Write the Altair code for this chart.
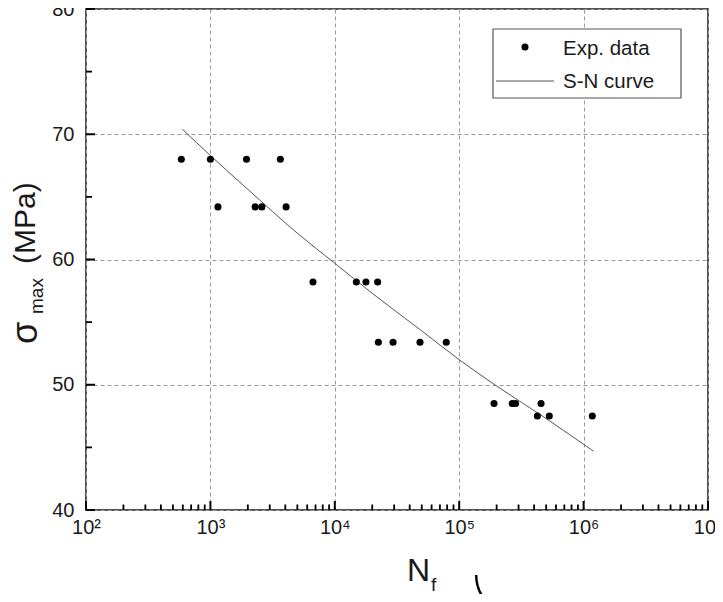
import altair as alt
import pandas as pd

# Experimental fatigue data (cycles to failure, max stress in MPa)
exp_n = [584, 1000, 1950, 3650,
         1150, 2290, 2590, 4060,
         6680, 14900, 17800, 22100,
         22400, 29400, 48400, 78700,
         190500, 267000, 284000, 455000,
         425000, 530000, 1175000]
exp_s = [68.0, 68.0, 68.0, 68.0,
         64.2, 64.2, 64.2, 64.2,
         58.2, 58.2, 58.2, 58.2,
         53.4, 53.4, 53.4, 53.4,
         48.5, 48.5, 48.5, 48.5,
         47.5, 47.5, 47.5]

# S-N curve
curve_n = [595, 1000, 2000, 5000, 10000, 20000, 50000, 100000, 200000, 500000, 1200000]
curve_s = [70.4, 68.3, 65.6, 62.1, 59.7, 57.3, 54.3, 52.0, 49.9, 47.3, 44.7]

x_major = [1e2, 1e3, 1e4, 1e5, 1e6, 1e7]
x_minor = [k * 10 ** e for e in range(2, 7) for k in range(2, 10)]
y_major = [40, 50, 60, 70, 80]
y_minor = [45, 55, 65, 75]

legend_labels = ["Exp. data", "S-N curve"]
x_title = ["N", "f"]
y_title = ["σ", "max", "(MPa)"]

W, H = 622, 501
FONT = "Liberation Sans"
INK = "#1a1a1a"

df_exp = pd.DataFrame({"N": exp_n, "S": exp_s})
df_curve = pd.DataFrame({"N": curve_n, "S": curve_s})

xscale = alt.Scale(type="log", domain=[1e2, 1e7])
yscale = alt.Scale(domain=[40, 80])

sup = "['⁰','¹','²','³','⁴','⁵','⁶','⁷','⁸'][round(log(datum.value)/LN10)]"

main_x_axis = alt.Axis(
    orient="bottom", values=x_major, title=None, ticks=False, domain=False,
    grid=True, gridDash=[4, 3], gridColor="#9a9a9a", gridWidth=1,
    labelExpr="'10' + " + sup, labelFont=FONT, labelFontSize=20,
    labelColor=INK, labelPadding=7, labelFlush=False, labelOverlap=False,
)
main_y_axis = alt.Axis(
    orient="left", values=y_major, title=None, ticks=False, domain=False,
    grid=True, gridDash=[4, 3], gridColor="#9a9a9a", gridWidth=1,
    labelFont=FONT, labelFontSize=20, labelColor=INK, labelPadding=12,
    labelFlush=False, labelOverlap=False,
)

points = alt.Chart(df_exp).mark_point(filled=True, size=50, color="black", opacity=1).encode(
    x=alt.X("N:Q", scale=xscale, axis=main_x_axis),
    y=alt.Y("S:Q", scale=yscale, axis=main_y_axis),
)

curve = alt.Chart(df_curve).mark_line(color="#555555", strokeWidth=1, interpolate="monotone").encode(
    x=alt.X("N:Q", scale=xscale, axis=None),
    y=alt.Y("S:Q", scale=yscale, axis=None),
)

# inward ticks on the bottom and left frame
df_xmaj = pd.DataFrame({"tx": x_major})
df_xmin = pd.DataFrame({"tx": x_minor})
df_ymaj = pd.DataFrame({"ty": y_major})
df_ymin = pd.DataFrame({"ty": y_minor})

xt_major = alt.Chart(df_xmaj).mark_rule(color="black", strokeWidth=2).encode(
    x=alt.X("tx:Q", scale=xscale, axis=None), y=alt.value(H), y2=alt.value(H - 9))
xt_minor = alt.Chart(df_xmin).mark_rule(color="black", strokeWidth=1.8).encode(
    x=alt.X("tx:Q", scale=xscale, axis=None), y=alt.value(H), y2=alt.value(H - 5.5))
yt_major = alt.Chart(df_ymaj).mark_rule(color="black", strokeWidth=2).encode(
    y=alt.Y("ty:Q", scale=yscale, axis=None), x=alt.value(0), x2=alt.value(9))
yt_minor = alt.Chart(df_ymin).mark_rule(color="black", strokeWidth=1.8).encode(
    y=alt.Y("ty:Q", scale=yscale, axis=None), x=alt.value(0), x2=alt.value(6))

one = alt.Data(values=[{"k": 0}])

# legend
leg_box = alt.Chart(one).mark_rect(fill="white", stroke="#555555", strokeWidth=1.2).encode(
    x=alt.value(407), x2=alt.value(595), y=alt.value(20), y2=alt.value(89))
leg_dot = alt.Chart(one).mark_point(filled=True, size=50, color="black", opacity=1).encode(
    x=alt.value(439), y=alt.value(38))
leg_line = alt.Chart(one).mark_rule(color="#555555", strokeWidth=1).encode(
    x=alt.value(410), x2=alt.value(468), y=alt.value(72))
leg_t1 = alt.Chart(one).mark_text(align="left", baseline="alphabetic", font=FONT, fontSize=20.5, color=INK).encode(
    x=alt.value(477), y=alt.value(46), text=alt.value(legend_labels[0]))
leg_t2 = alt.Chart(one).mark_text(align="left", baseline="alphabetic", font=FONT, fontSize=20.5, color=INK).encode(
    x=alt.value(477), y=alt.value(79), text=alt.value(legend_labels[1]))

# axis titles
xt_main = alt.Chart(one).mark_text(align="left", baseline="alphabetic", font=FONT, fontSize=32, color=INK).encode(
    x=alt.value(321), y=alt.value(572), text=alt.value(x_title[0]))
xt_sub = alt.Chart(one).mark_text(align="left", baseline="alphabetic", font=FONT, fontSize=19, color=INK).encode(
    x=alt.value(345), y=alt.value(582), text=alt.value(x_title[1]))

yt_sig = alt.Chart(one).mark_text(align="left", baseline="alphabetic", angle=270, font=FONT, fontSize=36, color=INK).encode(
    x=alt.value(-49), y=alt.value(335), text=alt.value(y_title[0]))
yt_sub = alt.Chart(one).mark_text(align="left", baseline="alphabetic", angle=270, font=FONT, fontSize=19, color=INK).encode(
    x=alt.value(-43), y=alt.value(305), text=alt.value(y_title[1]))
yt_unit = alt.Chart(one).mark_text(align="left", baseline="alphabetic", angle=270, font=FONT, fontSize=30, color=INK).encode(
    x=alt.value(-51), y=alt.value(255), text=alt.value(" " + y_title[2]))

stray = alt.Chart(one).mark_arc(radius=41.8, radius2=39.4, theta=3.5, theta2=4.712, color="black").encode(
    x=alt.value(430.8), y=alt.value(566))

chart = alt.layer(
    curve, points, xt_major, xt_minor, yt_major, yt_minor,
    leg_box, leg_dot, leg_line, leg_t1, leg_t2,
    xt_main, xt_sub, yt_sig, yt_sub, yt_unit, stray,
).resolve_axis(x="independent", y="independent").properties(
    width=W, height=H,
    autosize=alt.AutoSizeParams(type="none"),
    padding={"left": 78, "top": 1, "right": 7, "bottom": 84},
    background="white",
).configure_view(stroke=INK, strokeWidth=1.5)

chart.save("out.html", embed_options={"renderer": "svg", "actions": False})
